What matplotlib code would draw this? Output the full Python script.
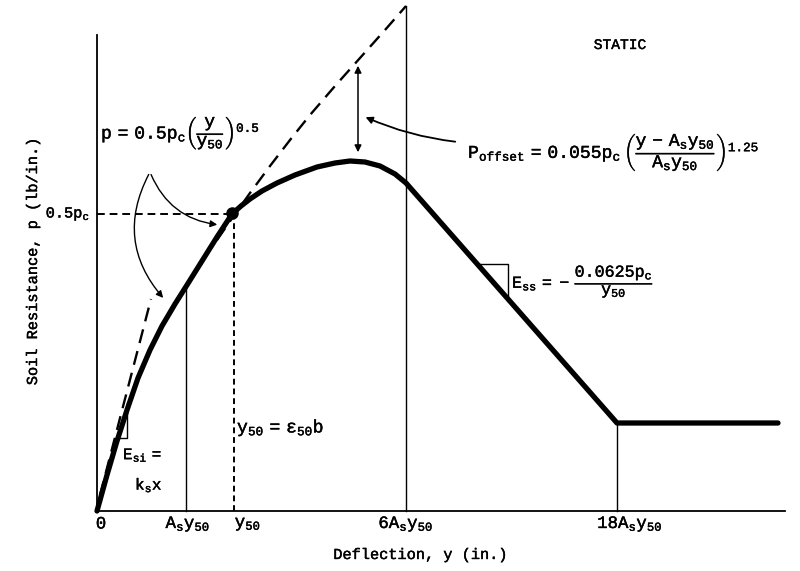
import matplotlib
matplotlib.use("Agg")
import matplotlib.pyplot as plt
import matplotlib.patheffects as pe

matplotlib.rcParams['font.family'] = ['Liberation Mono', 'DejaVu Sans Mono']
matplotlib.rcParams['font.size'] = 11
matplotlib.rcParams['mathtext.fontset'] = 'custom'
matplotlib.rcParams['mathtext.rm'] = 'Liberation Mono'
matplotlib.rcParams['mathtext.it'] = 'Liberation Mono'
matplotlib.rcParams['mathtext.bf'] = 'Liberation Mono:bold'
matplotlib.rcParams['mathtext.fallback'] = 'cm'

# ---- schematic p-y curve (sketch units) ----
curve_x = [0, 10, 20, 30, 41, 53, 65, 78, 90, 105, 120, 135, 144, 153, 165, 180,
           198, 220, 238, 253, 268, 283, 298, 309, 520, 681]
curve_y = [0, 36, 70, 101, 133, 161, 185, 207, 226, 250, 274, 297, 305, 312, 320, 328,
           336, 344, 348, 350, 349, 345, 337, 328, 88, 88]

# parabola p = 0.5pc (y/y50)^0.5 continued (dashed)
parab_x = [120, 136, 153, 173, 193, 213, 238, 263, 288, 309]
parab_y = [271, 294, 318, 345, 371, 396, 425, 453, 481, 505]

# initial tangent E_si = k_s x (dashed)
init_x = [3, 54]
init_y = [16, 212]

# reference deflections on the x axis
As_y50 = 89
y50 = 137
six_As_y50 = 309
eighteen_As_y50 = 520
half_pc = 297          # level of 0.5 pc
top_6As = 505
p_at_As = 224
plateau_p = 88

tick_pos = [4, 91, 151, 309, 533]
tick_labels = ['0', r'$\mathrm{A_s y_{50}}$', r'$\mathrm{y_{50}}$',
               r'$\mathrm{6A_s y_{50}}$', r'$\mathrm{18A_s y_{50}}$']

fig = plt.figure(figsize=(8, 5.71), dpi=100)
ax = fig.add_axes([97/800, 60/571, 693/800, 511/571])
ax.set_xlim(0, 693)
ax.set_ylim(0, 511)
for s in ['top', 'right']:
    ax.spines[s].set_visible(False)
ax.spines['left'].set_bounds(0, 476)
ax.spines['bottom'].set_bounds(0, 688)
ax.spines['left'].set_linewidth(1.3)
ax.spines['bottom'].set_linewidth(1.3)
ax.set_xticks([])
ax.set_yticks([])
ax.patch.set_alpha(0)

k = dict(color='black', clip_on=False)
ink = [pe.withStroke(linewidth=0.3, foreground='black')]

# main curve
ax.plot(curve_x, curve_y, lw=3.8, solid_joinstyle='round', solid_capstyle='round', **k)
# dashed extensions
ax.plot(parab_x, parab_y, lw=1.7, ls=(0, (6, 3.5)), **k)
ax.plot(init_x, init_y, lw=1.7, ls=(0, (6, 3.5)), **k)

# verticals
ax.plot([As_y50, As_y50], [0, p_at_As], lw=1.0, **k)
ax.plot([y50, y50], [0, half_pc], lw=1.4, ls=(0, (3, 2)), **k)
ax.plot([0, y50], [half_pc, half_pc], lw=1.4, ls=(0, (4, 2.5)), **k)
ax.plot([six_As_y50, six_As_y50], [0, top_6As], lw=1.0, **k)
ax.plot([eighteen_As_y50, eighteen_As_y50], [0, plateau_p], lw=1.0, **k)
ax.plot([y50 - 2], [half_pc + 1], 'o', ms=8, **k)

# slope triangles
ax.plot([22, 30, 30], [73, 73, 108], lw=1.0, **k)
ax.plot([381, 411, 411], [247, 247, 214], lw=1.0, **k)

# p_offset double arrow
ax.annotate('', xy=(261, 356), xytext=(261, 448),
            arrowprops=dict(arrowstyle='<|-|>', lw=1.1, color='black',
                            mutation_scale=10))
ax.annotate('', xy=(266, 395), xytext=(361, 369),
            arrowprops=dict(arrowstyle='-|>', lw=1.3, color='black',
                            mutation_scale=10,
                            connectionstyle='arc3,rad=-0.08'))

# curved pointers from the parabola label
ax.annotate('', xy=(123, 286), xytext=(53, 339),
            arrowprops=dict(arrowstyle='-|>', lw=1.0, color='black',
                            mutation_scale=10,
                            connectionstyle='arc3,rad=0.3'))
ax.annotate('', xy=(68, 211), xytext=(53, 339),
            arrowprops=dict(arrowstyle='-|>', lw=1.0, color='black',
                            mutation_scale=10,
                            connectionstyle='arc3,rad=0.35'))

# annotations
texts = []
texts.append(ax.text(523, 466, 'STATIC', ha='center', va='center', fontsize=10.5))
texts.append(ax.text(4, 379, r'$\mathrm{p\ =\ 0.5p_c}\left(\dfrac{y}{y_{50}}\right)^{0.5}$',
                     ha='left', va='center', fontsize=13))
texts.append(ax.text(371, 360,
                     r'$\mathrm{P_{offset}\ =\ 0.055p_c}\ \left(\dfrac{y\ -\ A_s y_{50}}{A_s y_{50}}\right)^{1.25}$',
                     ha='left', va='center', fontsize=13))
texts.append(ax.text(-7, half_pc, r'$\mathrm{0.5p_c}$', ha='right', va='center', fontsize=11))
texts.append(ax.text(415, 229, r'$\mathrm{E_{ss}\ =\ -\ }\dfrac{0.0625p_c}{y_{50}}$',
                     ha='left', va='center', fontsize=12))
texts.append(ax.text(140, 83, r'$\mathrm{y_{50}\ =\ \epsilon_{50}b}$',
                     ha='left', va='center', fontsize=13))
texts.append(ax.text(26, 56, r'$\mathrm{E_{si}\ =}$', ha='left', va='center', fontsize=11.5))
texts.append(ax.text(38, 26, r'$\mathrm{k_s x}$', ha='left', va='center', fontsize=11.5))

for xp, lab in zip(tick_pos, tick_labels):
    texts.append(ax.text(xp, -13, lab, ha='center', va='center', fontsize=12.5, clip_on=False))

texts.append(ax.text(323, -44, 'Deflection, y (in.)', ha='center', va='center', fontsize=11))
texts.append(ax.text(-64, 249, 'Soil Resistance, p (lb/in.)', ha='center', va='center',
                     rotation=90, fontsize=11))
for t in texts:
    t.set_path_effects(ink)

fig.savefig('out.png', dpi=100)
